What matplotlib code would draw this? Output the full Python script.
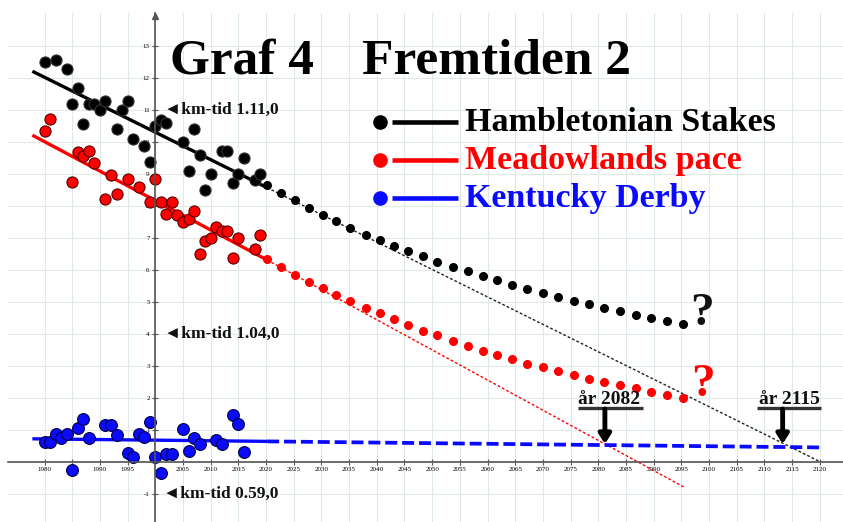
import numpy as np
import matplotlib
matplotlib.use("Agg")
import matplotlib.pyplot as plt

plt.rcParams['font.family'] = ['Liberation Serif', 'DejaVu Sans']

# --- data: measured race times (scaled units) ---
ham_years = [1980, 1982, 1984, 1985, 1986, 1987, 1988, 1989, 1990, 1991, 1993, 1994, 1995,
             1996, 1998, 1999, 2000, 2001, 2002, 2005, 2006, 2007, 2008, 2009, 2010, 2012,
             2013, 2014, 2015, 2016, 2018, 2019]
ham_vals = [12.48, 12.56, 12.27, 11.18, 11.68, 10.55, 11.18, 11.18, 11.0, 11.28, 10.4, 11.0, 11.28,
            10.08, 9.87, 9.37, 10.5, 10.66, 10.57, 9.98, 9.07, 10.38, 9.59, 8.49, 8.99, 9.7,
            9.7, 8.7, 8.99, 9.5, 8.8, 9.0]

mea_years = [1980, 1981, 1985, 1986, 1987, 1988, 1989, 1991, 1992, 1993, 1995, 1997, 1999,
             2000, 2001, 2002, 2003, 2004, 2005, 2006, 2007, 2008, 2009, 2010, 2011, 2012,
             2013, 2014, 2015, 2018, 2019]
mea_vals = [10.32, 10.7, 8.73, 9.69, 9.56, 9.72, 9.33, 8.21, 8.97, 8.37, 8.83, 8.59, 8.12,
            8.83, 8.1, 7.73, 8.1, 7.72, 7.48, 7.58, 7.84, 6.48, 6.88, 7.0, 7.33, 7.22,
            7.22, 6.37, 6.99, 6.63, 7.08]

ken_years = [1980, 1981, 1982, 1983, 1984, 1985, 1986, 1987, 1988, 1991, 1992, 1993, 1995,
             1996, 1997, 1998, 1999, 2000, 2001, 2002, 2003, 2005, 2006, 2007, 2008, 2011,
             2012, 2014, 2015, 2016]
ken_vals = [0.62, 0.6, 0.86, 0.73, 0.86, -0.28, 1.04, 1.33, 0.74, 1.15, 1.15, 0.84, 0.27,
            0.13, 0.86, 0.78, 1.23, 0.13, -0.37, 0.22, 0.24, 1.02, 0.32, 0.74, 0.55, 0.68,
            0.55, 1.47, 1.16, 0.29]

# --- future guesses (dotted curves) ---
fut_years = [2020.2, 2022.7, 2025.2, 2027.7, 2030.3, 2032.7, 2035.2, 2038.0, 2040.5, 2043.1,
             2045.7, 2048.4, 2050.9, 2053.7, 2056.4, 2059.1, 2061.8, 2064.5, 2067.2, 2070.0,
             2072.7, 2075.6, 2078.4, 2081.1, 2084.0, 2086.8, 2089.5, 2092.4, 2095.3]
ham_future = [8.65, 8.39, 8.16, 7.93, 7.71, 7.51, 7.29, 7.09, 6.93, 6.75, 6.57, 6.41, 6.23, 6.09,
              5.94, 5.79, 5.66, 5.52, 5.38, 5.26, 5.13, 5.01, 4.91, 4.79, 4.69, 4.59, 4.49, 4.38, 4.30]
mea_future = [6.33, 6.07, 5.84, 5.62, 5.42, 5.22, 5.01, 4.80, 4.64, 4.46, 4.27, 4.09, 3.94, 3.78,
              3.61, 3.47, 3.33, 3.19, 3.05, 2.95, 2.82, 2.69, 2.58, 2.48, 2.38, 2.29, 2.17, 2.08, 1.99]

# --- trend lines: solid part and extension (start/end points) ---
trend_years = [1977.8, 2020.2]
ham_trend = [12.2, 8.56]
mea_trend = [10.2, 6.3]
ken_trend = [0.71, 0.63]
ham_ext = ([2020.2, 2120.0], [8.56, 0.0])
mea_ext = ([2020.2, 2095.5], [6.3, -0.8])
ken_ext = ([2020.2, 2120.5], [0.63, 0.44])

xticks = list(range(1980, 2121, 5))
yticks = list(range(-1, 14))

W, H = 843, 522
fig = plt.figure(figsize=(W / 100, H / 100), dpi=100)
ax = fig.add_axes([8 / W, 0, 835 / W, 509 / H])
ax.set_xlim(1973.4, 2124.2)
ax.set_ylim(-1.89, 14.02)

# grid
ax.set_xticks(xticks)
ax.set_yticks(yticks)
ax.grid(True, color='#dfeae2', lw=0.8)
ax.set_axisbelow(True)

# axes through origin (year 2000, 0)
for s in ['top', 'right']:
    ax.spines[s].set_visible(False)
ax.spines['left'].set_position(('data', 2000))
ax.spines['bottom'].set_position(('data', 0))
ax.spines['left'].set_color('#555555')
ax.spines['bottom'].set_color('#555555')
ax.spines['left'].set_linewidth(1.2)
ax.spines['bottom'].set_linewidth(1.2)
ax.set_xticklabels(['' if t == 2000 else str(t) for t in xticks])
ax.set_yticklabels(['' if t == 0 else str(t) for t in yticks])
ax.tick_params(axis='both', direction='inout', length=4, width=0.8, color='#555555',
               labelsize=5, pad=2)
ax.plot([2000], [13.93], marker='^', ms=4, color='#555555', clip_on=False)

# trend lines
ax.plot(trend_years, ham_trend, color='black', lw=2.4, solid_capstyle='butt')
ax.plot(ham_ext[0], ham_ext[1], color='#222222', lw=1.0, ls=(0, (2, 1.5)))
ax.plot(trend_years, mea_trend, color='red', lw=2.4, solid_capstyle='butt')
ax.plot(mea_ext[0], mea_ext[1], color='red', lw=1.0, ls=(0, (2, 1.5)))
ax.plot(trend_years, ken_trend, color='#0a0aff', lw=2.4, solid_capstyle='butt')
ax.plot(ken_ext[0], ken_ext[1], color='#0a0aff', lw=2.7, ls=(0, (3.2, 1.3)))

# future dotted curves
ax.plot(fut_years, ham_future, 'o', ms=5.5, color='black', ls='none')
ax.plot(fut_years, mea_future, 'o', ms=5.5, color='red', ls='none')

# measured points
ax.plot(ham_years, ham_vals, 'o', ms=8, mfc='black', mec='#333333', mew=0.8, ls='none')
ax.plot(mea_years, mea_vals, 'o', ms=8, mfc='red', mec='#550000', mew=0.8, ls='none')
ax.plot(ken_years, ken_vals, 'o', ms=8.5, mfc='#0a0aff', mec='#000044', mew=0.8, ls='none')

# labels along the y axis
lab_kw = dict(fontsize=12.5, fontweight='bold', va='center', ha='left', color='#111111')
ax.text(2001.6, 11, '◄km-tid 1.11,0', **lab_kw)
ax.text(2001.6, 4, '◄km-tid 1.04,0', **lab_kw)
ax.text(2001.4, -1, '◄km-tid 0.59,0', **lab_kw)

# question marks
ax.text(2098.8, 4.6, '?', fontsize=34, fontweight='bold', color='#111111', ha='center', va='center')
ax.text(2099.0, 2.4, '?', fontsize=34, fontweight='bold', color='red', ha='center', va='center')

# crossing arrows
for txt, xt, xa, xl in [('år 2082', 2081.9, 2081.2, (2076.4, 2088.0)),
                        ('år 2115', 2114.5, 2113.3, (2108.6, 2120.2))]:
    ax.text(xt, 1.8, txt, fontsize=14, fontweight='bold', ha='center', va='baseline', color='#111111')
    ax.plot(list(xl), [1.66, 1.66], color='#333333', lw=2.4, solid_capstyle='butt')
    ax.annotate('', xy=(xa, 0.55), xytext=(xa, 1.64),
                arrowprops=dict(arrowstyle='-|>,head_width=0.35,head_length=0.55',
                                lw=3.5, color='black', shrinkA=0, shrinkB=0))

# overlay for title and legend (pixel coordinates)
lay = fig.add_axes([0, 0, 1, 1])
lay.set_xlim(0, W)
lay.set_ylim(H, 0)
lay.axis('off')
lay.patch.set_alpha(0)

lay.text(170, 73, 'Graf 4', fontsize=37, fontweight='bold', va='baseline', ha='left')
lay.text(362, 73, 'Fremtiden 2', fontsize=37, fontweight='bold', va='baseline', ha='left')

legend_names = ['Hambletonian Stakes', 'Meadowlands pace', 'Kentucky Derby']
legend_colors = ['black', 'red', '#0a0aff']
legend_rows = [121.5, 159.5, 197.5]
for name, col, yy in zip(legend_names, legend_colors, legend_rows):
    lay.plot([380], [yy], 'o', ms=9.5, color=col)
    lay.plot([392, 458], [yy, yy], color=col, lw=3.3, solid_capstyle='butt')
    lay.text(465, yy + 1, name, fontsize=24.5, fontweight='bold', color=col, va='center', ha='left')

fig.savefig('out.png', dpi=100)
